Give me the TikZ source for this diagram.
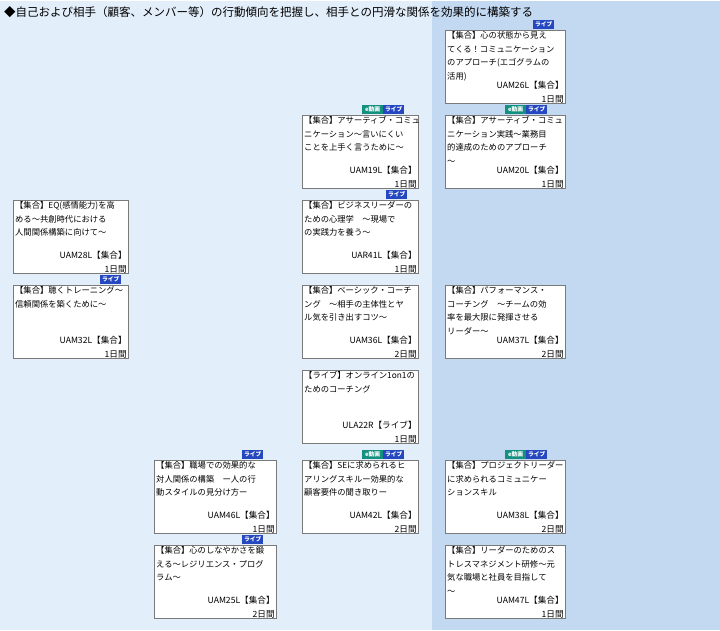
\documentclass[tikz,border=0pt]{standalone}
\usepackage{fontspec}
\setmainfont{Noto Sans CJK JP}
\definecolor{bgl}{HTML}{E3EEFB}
\definecolor{bgr}{HTML}{C3D8F1}
\definecolor{bline}{HTML}{7A7A7A}
\definecolor{evid}{HTML}{14907E}
\definecolor{live}{HTML}{2547C0}
\tikzset{
  cbox/.style={draw=bline,fill=white,line width=0.8pt,inner sep=0pt},
  ctext/.style={anchor=north west,align=left,inner sep=0pt,font=\fontsize{8.3}{13.8}\selectfont},
  ccode/.style={anchor=south east,align=right,inner sep=0pt,font=\fontsize{8.6}{12}\selectfont},
  badge/.style={anchor=south west,inner sep=0pt,minimum height=9pt,text=white,font=\fontsize{5.8}{6}\selectfont\bfseries}
}
\newcommand\mybox[7]{% name x y w text code days
  \node[cbox,anchor=north west,minimum width=#4pt,minimum height=73pt] (#1) at (#2pt,-#3pt) {};
  \node[ctext] (#1t) at ([xshift=2pt,yshift=-1pt]#1.north west) {#5};
  \node[ccode] (#1c) at ([xshift=-2pt,yshift=14pt]#1.south east) {#6};
  \node[ccode] (#1d) at ([xshift=-2pt,yshift=0.5pt]#1.south east) {#7};
}
\newcommand\mylive[2]{\node[badge,fill=live,minimum width=21pt] at (#1pt,-#2pt) {ライブ};}
\newcommand\myboth[2]{\node[badge,fill=evid,minimum width=21pt] at (#1pt,-#2pt) {e動画};\node[badge,fill=live,minimum width=21pt] at (#1pt+21pt,-#2pt) {ライブ};}
\begin{document}
\begin{tikzpicture}
\useasboundingbox (0,0) rectangle (720pt,-630pt);
\fill[bgl] (0,0) rectangle (432pt,-630pt);
\fill[bgr] (432pt,0) rectangle (720pt,-630pt);
\fill[white] (0,0) rectangle (720pt,-1pt);
\node[anchor=west,inner sep=0pt,font=\fontsize{11.5}{12}\selectfont] (title) at (4pt,-12pt) {◆自己および相手（顧客、メンバー等）の行動傾向を把握し、相手との円滑な関係を効果的に構築する};

\mybox{b26}{445}{30}{120}{【集合】心の状態から見え\\てくる！コミュニケーション\\のアプローチ(エゴグラムの\\活用)}{UAM26L【集合】}{1日間}
\mylive{533}{29}
\mybox{b19}{302}{115}{116}{【集合】アサーティブ・コミュ\\ニケーション～言いにくい\\ことを上手く言うために～}{UAM19L【集合】}{1日間}
\myboth{362}{114}
\mybox{b20}{445}{115}{120}{【集合】アサーティブ・コミュ\\ニケーション実践～業務目\\的達成のためのアプローチ\\～}{UAM20L【集合】}{1日間}
\myboth{505}{114}
\mybox{b28}{13}{200}{115}{【集合】EQ(感情能力)を高\\める～共創時代における\\人間関係構築に向けて～}{UAM28L【集合】}{1日間}
\mybox{b41}{302}{200}{116}{【集合】ビジネスリーダーの\\ための心理学　～現場で\\の実践力を養う～}{UAR41L【集合】}{1日間}
\mylive{386}{199}
\mybox{b32}{13}{285}{115}{【集合】聴くトレーニング～\\信頼関係を築くために～}{UAM32L【集合】}{1日間}
\mylive{100}{284}
\mybox{b36}{302}{285}{116}{【集合】ベーシック・コーチ\\ング　～相手の主体性とヤ\\ル気を引き出すコツ～}{UAM36L【集合】}{2日間}
\mybox{b37}{445}{285}{120}{【集合】パフォーマンス・\\コーチング　～チームの効\\率を最大限に発揮させる\\リーダー～}{UAM37L【集合】}{2日間}
\mybox{b22}{302}{370}{116}{【ライブ】オンライン1on1の\\ためのコーチング}{ULA22R【ライブ】}{1日間}
\mybox{b46}{154}{460}{122}{【集合】職場での効果的な\\対人関係の構築　ー人の行\\動スタイルの見分け方ー}{UAM46L【集合】}{1日間}
\mylive{242}{459}
\mybox{b42}{302}{460}{116}{【集合】SEに求められるヒ\\アリングスキルー効果的な\\顧客要件の聞き取りー}{UAM42L【集合】}{2日間}
\myboth{362}{459}
\mybox{b38}{445}{460}{120}{【集合】プロジェクトリーダー\\に求められるコミュニケー\\ションスキル}{UAM38L【集合】}{2日間}
\myboth{505}{459}
\mybox{b25}{154}{545}{122}{【集合】心のしなやかさを鍛\\える～レジリエンス・プログ\\ラム～}{UAM25L【集合】}{2日間}
\mylive{242}{544}
\mybox{b47}{445}{545}{120}{【集合】リーダーのためのス\\トレスマネジメント研修～元\\気な職場と社員を目指して\\～}{UAM47L【集合】}{1日間}
\end{tikzpicture}
\end{document}
